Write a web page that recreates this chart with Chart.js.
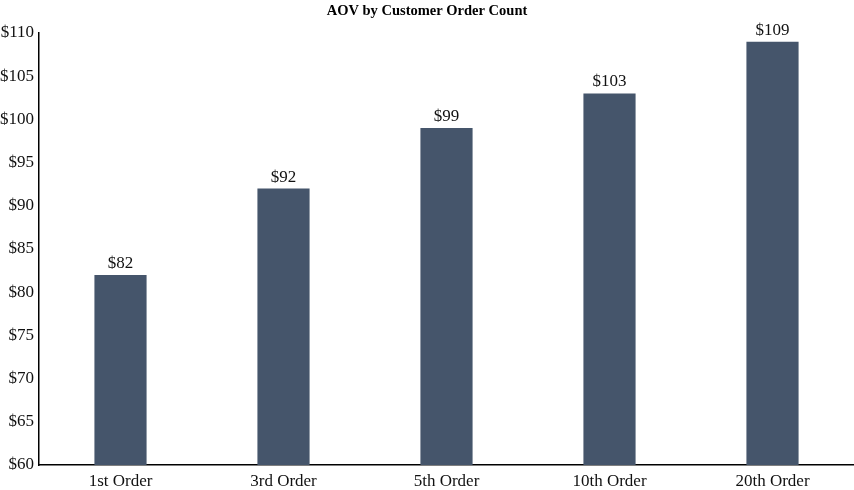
<!DOCTYPE html>
<html>
<head>
<meta charset="utf-8">
<script src="https://cdn.jsdelivr.net/npm/chart.js@4.4.0/dist/chart.umd.min.js"></script>
<style>
  html, body { margin: 0; padding: 0; background: #fff; }
  #wrap { width: 854px; height: 490px; }
</style>
</head>
<body>
<div id="wrap"><canvas id="aov-chart"></canvas></div>
<script>
// Chart data
const categories = ['1st Order', '3rd Order', '5th Order', '10th Order', '20th Order'];
const aovValues = [82, 92, 99, 103, 109];
const yTicks = [60, 65, 70, 75, 80, 85, 90, 95, 100, 105, 110];

const serif = '"Liberation Serif", "Times New Roman", serif';

// Draw the $ value above each bar
const valueLabels = {
    id: 'valueLabels',
    afterDatasetsDraw(chart) {
        const ctx = chart.ctx;
        const meta = chart.getDatasetMeta(0);
        ctx.save();
        ctx.font = '17px ' + serif;
        ctx.fillStyle = '#111';
        ctx.textAlign = 'center';
        ctx.textBaseline = 'alphabetic';
        meta.data.forEach(function(bar, i) {
            ctx.fillText('$' + aovValues[i], bar.x, bar.y - 7);
        });
        ctx.restore();
    }
};

const ctx = document.getElementById('aov-chart');
new Chart(ctx, {
    type: 'bar',
    data: {
        labels: categories,
        datasets: [{
            label: 'AOV',
            data: aovValues,
            backgroundColor: '#45556b',
            borderWidth: 0,
            categoryPercentage: 1,
            barPercentage: 0.32
        }]
    },
    options: {
        responsive: true,
        maintainAspectRatio: false,
        animation: false,
        layout: { padding: 0 },
        scales: {
            x: {
                grid: { display: false, drawTicks: false },
                border: { display: true, color: '#000', width: 1.5 },
                afterFit: function(scale) {
                    scale.height = 25;
                },
                ticks: {
                    color: '#111',
                    font: { family: serif, size: 17 },
                    padding: 6
                }
            },
            y: {
                min: 60,
                max: 110,
                grid: { display: false, drawTicks: false },
                border: { display: true, color: '#000', width: 1.5 },
                afterBuildTicks: function(scale) {
                    scale.ticks = yTicks.map(v => ({ value: v }));
                },
                afterFit: function(scale) {
                    scale.width = 39;
                },
                ticks: {
                    color: '#111',
                    font: { family: serif, size: 17 },
                    padding: 5,
                    callback: function(value) {
                        return '$' + value;
                    }
                }
            }
        },
        plugins: {
            legend: { display: false },
            tooltip: { enabled: false },
            title: {
                display: true,
                text: 'AOV by Customer Order Count',
                color: '#000',
                font: { family: serif, size: 14.5, weight: 'bold' },
                padding: { top: 3, bottom: 12.6 }
            }
        }
    },
    plugins: [valueLabels]
});
</script>
</body>
</html>
